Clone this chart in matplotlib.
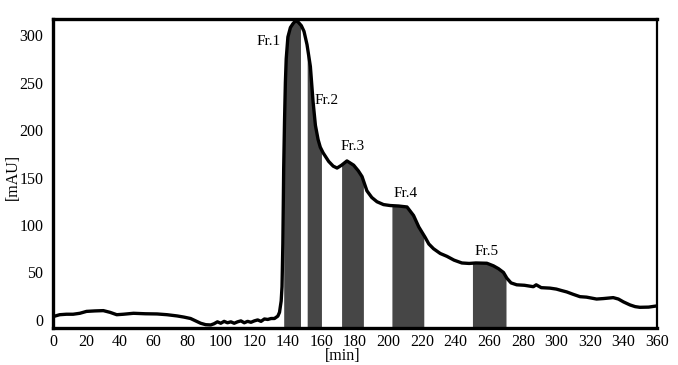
import numpy as np
import matplotlib
matplotlib.use("Agg")
import matplotlib.pyplot as plt

# Chromatogram trace (time in min, absorbance in mAU)
time_min = [0, 1, 4, 8, 12, 16, 20, 25, 30, 34, 38, 42, 48, 55, 62, 68, 74, 78, 82, 85,
            88, 91, 94, 96, 98, 100, 102, 104, 106, 108, 110, 112, 114, 116, 118, 120, 122, 124, 126, 128,
            130, 132, 134, 135, 136, 136.5, 137, 137.5, 138, 138.5, 139, 140, 141.5, 143, 144.5, 146, 148, 149.6, 151.4, 153.4,
            155, 156.4, 158, 159.3, 161, 164.3, 167, 169.3, 172, 175.2, 179.2, 182, 184.2, 187.1, 190, 193.1, 197, 201, 206, 211,
            214.9, 218, 221.8, 224, 226.8, 230.8, 234.8, 239, 243.7, 248, 252, 258.6, 262.5, 265.5, 268.5, 270.5, 273, 276.4, 281, 286.3,
            288, 291, 296.2, 300, 303, 306.2, 310, 314.1, 318, 324, 328, 333.9, 337, 340, 343.9, 347, 349.8, 355, 360]
absorbance_mau = [3, 4, 5.5, 6, 6, 7, 9, 9.5, 9.8, 8, 5.5, 6, 7, 6.5, 6.3, 5.5, 4.2, 3, 1.5, -1,
                  -3.5, -5, -5.3, -4, -2, -3.5, -1.5, -3, -2, -3.5, -2, -1, -3, -1.5, -2.5, -1, 0, -1.5, 1, 0.5,
                  1.5, 1.5, 4, 8, 20, 35, 80, 160, 210, 250, 275, 298, 308, 312, 315, 314, 310, 304, 290, 267,
                  230, 205, 190, 182, 176, 167, 162, 160, 163, 167.5, 163, 157, 151, 136, 129, 124.5, 121.5, 120.5, 120, 119,
                  110, 98, 87, 80, 75, 70, 67, 63, 60, 59.5, 60, 59.7, 57, 54, 50, 44, 39, 37, 36.5, 35,
                  37, 34, 33.5, 32.5, 31, 29.5, 27, 24.5, 24, 22, 22.5, 23.5, 22, 19, 15.8, 14, 13.3, 13.5, 14.8]

# Collected fractions
fraction_labels = ["Fr.1", "Fr.2", "Fr.3", "Fr.4", "Fr.5"]
fraction_start = [137.5, 151.5, 172, 202, 250]
fraction_end = [147.5, 160, 185, 221, 270]
label_x = [128.6, 162.9, 178.3, 210.3, 258.6]
label_y = [293, 231.6, 182.5, 133.4, 71.9]

x_ticks = list(range(0, 361, 20))
y_ticks = [0, 50, 100, 150, 200, 250, 300]

plt.rcParams['font.family'] = ['Liberation Serif', 'DejaVu Serif']

fig = plt.figure(figsize=(6.78, 3.65), dpi=100)
ax = fig.add_axes([53/678, 1-328/365, (657-53)/678, (328-19)/365])

y_bottom, y_top = -8.5, 317
t = np.array(time_min, dtype=float)
a = np.array(absorbance_mau, dtype=float)

for s, e in zip(fraction_start, fraction_end):
    tt = np.linspace(s, e, 200)
    ax.fill_between(tt, y_bottom, np.interp(tt, t, a), color="#464646", linewidth=0, zorder=1)

ax.plot(t, a, color="black", linewidth=2.4, zorder=3, solid_joinstyle="round")

for lab, lx, ly in zip(fraction_labels, label_x, label_y):
    ax.text(lx, ly, lab, ha="center", va="center", fontsize=11, zorder=4)

ax.set_xlim(0, 360)
ax.set_ylim(y_bottom, y_top)
ax.set_xticks(x_ticks)
ax.set_yticks(y_ticks)
ax.tick_params(axis="both", length=0, labelsize=11.5)
ax.tick_params(axis="x", pad=4)
ax.tick_params(axis="y", pad=7)

for side in ["left", "bottom", "top"]:
    ax.spines[side].set_linewidth(2.4)
ax.spines["right"].set_linewidth(1.6)

ax.set_xlabel("[min]", fontsize=11.5)
ax.xaxis.set_label_coords((343-53)/604, -0.064)
ax.set_ylabel("[mAU]", fontsize=11.5)
ax.yaxis.set_label_coords(-0.053, 0.49)

fig.savefig("out.png", dpi=100)
